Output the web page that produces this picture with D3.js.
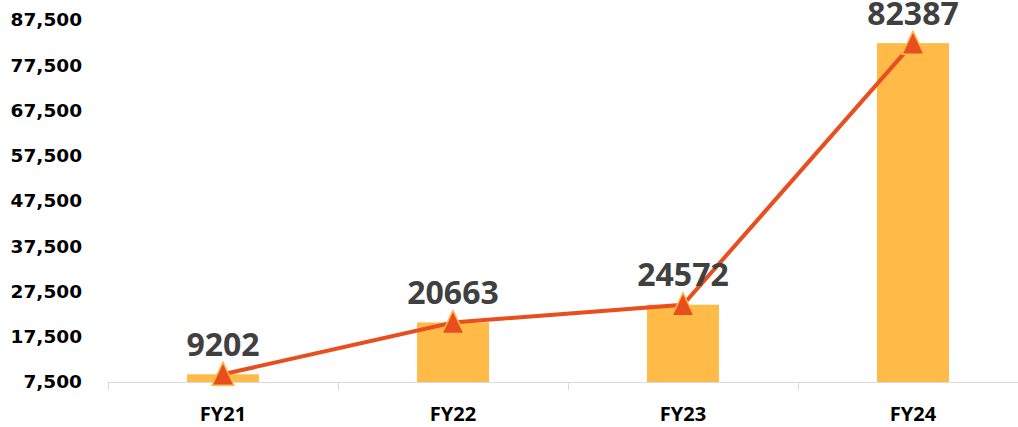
<!DOCTYPE html>
<html lang="en">
<head>
<meta charset="utf-8">
<script src="https://d3js.org/d3.v7.min.js"></script>
<style>
body { margin: 0; background: #fff; }
.ytick text { font-family: "DejaVu Sans", sans-serif; font-weight: bold; font-size: 18.5px; fill: #000; }
.xlab { font-family: "Open Sans", sans-serif; font-weight: bold; font-size: 20px; fill: #000; }
.vlab { font-family: "Open Sans", sans-serif; font-weight: bold; font-size: 32px; fill: #404040; }
</style>
</head>
<body>
<div id="chart"></div>
<script>
// data
var years = ["FY21", "FY22", "FY23", "FY24"];
var values = [9202, 20663, 24572, 82387];
var yTicks = [7500, 17500, 27500, 37500, 47500, 57500, 67500, 77500, 87500];

var W = 1018, H = 427;

var svg = d3.select("#chart").append("svg")
  .attr("width", W).attr("height", H);

// band axis runs off the right edge, like the reference
var x = d3.scaleBand().domain(years).range([108, 1028]).paddingInner(0).paddingOuter(0);
var y = d3.scaleLinear().domain([7500, 87500]).range([382, 20]);

var barW = 72;

// y labels
var yt = svg.append("g").attr("class", "ytick");
yt.selectAll("text").data(yTicks).enter().append("text")
  .attr("x", 82)
  .attr("y", function(d) { return y(d); })
  .attr("dy", "0.35em")
  .attr("text-anchor", "end")
  .text(function(d) { return d3.format(",")(d); });

// x axis line and tick marks between categories
svg.append("line")
  .attr("x1", 108).attr("x2", W)
  .attr("y1", y(7500) + 0.5).attr("y2", y(7500) + 0.5)
  .attr("stroke", "#d9d9d9").attr("stroke-width", 1);

var bounds = years.map(function(d) { return x(d); });
svg.selectAll(".xt").data(bounds).enter().append("line")
  .attr("class", "xt")
  .attr("x1", function(d) { return d + 0.5; })
  .attr("x2", function(d) { return d + 0.5; })
  .attr("y1", y(7500)).attr("y2", y(7500) + 8)
  .attr("stroke", "#d9d9d9").attr("stroke-width", 1);

// bars
svg.selectAll(".bar").data(values).enter().append("rect")
  .attr("class", "bar")
  .attr("x", function(d, i) { return x(years[i]) + x.bandwidth() / 2 - barW / 2; })
  .attr("y", function(d) { return y(d); })
  .attr("width", barW)
  .attr("height", function(d) { return y(7500) - y(d); })
  .attr("fill", "#FFBA47");

// line
var cx = function(d, i) { return x(years[i]) + x.bandwidth() / 2; };
svg.append("path")
  .datum(values)
  .attr("fill", "none")
  .attr("stroke", "#E84E1E")
  .attr("stroke-width", 4)
  .attr("d", d3.line().x(cx).y(function(d) { return y(d); }));

// triangle markers
svg.selectAll(".mk").data(values).enter().append("path")
  .attr("class", "mk")
  .attr("transform", function(d, i) { return "translate(" + cx(d, i) + "," + y(d) + ")"; })
  .attr("d", "M0,-12L11,11L-11,11Z")
  .attr("fill", "#E84E1E")
  .attr("stroke", "#FFBA47")
  .attr("stroke-width", 1.5);

// value labels
svg.selectAll(".vlab").data(values).enter().append("text")
  .attr("class", "vlab")
  .attr("x", cx)
  .attr("y", function(d) { return y(d) - 18.5; })
  .attr("text-anchor", "middle")
  .text(function(d) { return d; });

// category labels
svg.selectAll(".xlab").data(years).enter().append("text")
  .attr("class", "xlab")
  .attr("x", function(d) { return x(d) + x.bandwidth() / 2; })
  .attr("y", 421)
  .attr("text-anchor", "middle")
  .text(function(d) { return d; });
</script>
</body>
</html>
